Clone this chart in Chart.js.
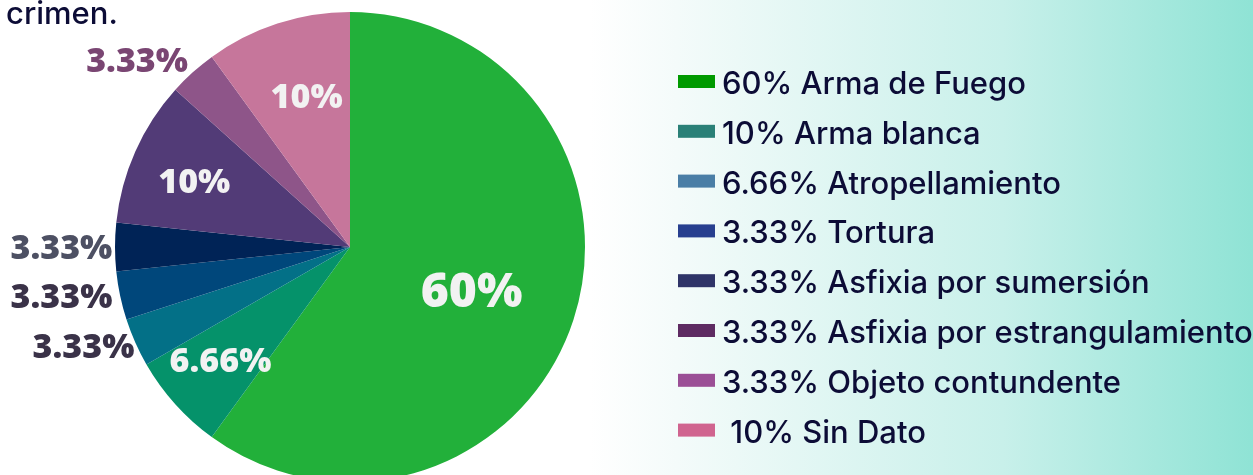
<!DOCTYPE html>
<html>
<head>
<meta charset="utf-8">
<script src="https://cdn.jsdelivr.net/npm/chart.js@4.4.1/dist/chart.umd.min.js"></script>
<style>
  html, body { margin: 0; padding: 0; width: 1253px; height: 475px; overflow: hidden; }
  body { background: linear-gradient(to right, #ffffff 0%, #ffffff 47%, #f4fbfa 54%, #c8f0ea 80%, #8fe3d5 100%); }
  #wrap { position: absolute; left: 0; top: 0; width: 1253px; height: 494px; }
</style>
</head>
<body>
<div id="wrap"><canvas id="c"></canvas></div>
<script>
// ---- data ----
const sliceNames = ["Arma de Fuego", "Atropellamiento", "Tortura", "Asfixia por sumersión", "Asfixia por estrangulamiento", "Arma blanca", "Objeto contundente", "Sin Dato"];
const sliceValues = [60, 6.66, 3.33, 3.33, 3.33, 10, 3.33, 10];
const legendLabels = ["60% Arma de Fuego", "10% Arma blanca", "6.66% Atropellamiento", "3.33% Tortura", "3.33% Asfixia por sumersión", "3.33% Asfixia por estrangulamiento", "3.33% Objeto contundente", " 10% Sin Dato"];
const titleText = "crimen.";

// ---- styles ----
const sliceColors = ["#22b03a", "#05926a", "#037087", "#00477b", "#002356", "#523b77", "#8e5589", "#c6769b"];
const legendColors = ["#009a00", "#2a8077", "#4a7ea6", "#273f8f", "#2f3468", "#5e2b62", "#9b4f96", "#d0648f"];
const labelColors = ["#f2f2f2", "#f2f2f2", "#3a3248", "#3a3248", "#4d5063", "#f2f2f2", "#7a4673", "#f2f2f2"];
const labelSizes = [48, 34, 34, 34, 34, 34, 34, 34];
const labelRadius = [0.548, 0.73, 1.21, 1.245, 1.228, 0.72, 1.206, 0.67];
const labelAngleShift = [1.3, 1, 3.6, 2.4, 0, -1, -6.7, 2];

const labelPlugin = {
  id: 'sliceLabels',
  afterDatasetsDraw(chart) {
    const ctx = chart.ctx;
    const meta = chart.getDatasetMeta(0);
    ctx.save();
    meta.data.forEach((arc, i) => {
      const p = arc.getProps(['x', 'y', 'startAngle', 'endAngle', 'outerRadius'], true);
      const mid = (p.startAngle + p.endAngle) / 2 + labelAngleShift[i] * Math.PI / 180;
      const r = p.outerRadius * labelRadius[i];
      const x = p.x + Math.cos(mid) * r;
      const y = p.y + Math.sin(mid) * r;
      const size = labelSizes[i];
      ctx.font = `800 ${size}px "Open Sans"`;
      ctx.fillStyle = labelColors[i];
      ctx.textAlign = 'center';
      ctx.textBaseline = 'alphabetic';
      ctx.fillText(sliceValues[i] + '%', x, y + size * 0.357);
    });
    ctx.restore();
  }
};

const legendPlugin = {
  id: 'sideLegend',
  afterDraw(chart) {
    const ctx = chart.ctx;
    ctx.save();
    const x0 = 678, y0 = 83, step = 49.8;
    legendLabels.forEach((t, i) => {
      const cy = y0 + i * step;
      ctx.fillStyle = legendColors[i];
      ctx.fillRect(x0, cy - 8, 37, 13);
      ctx.fillStyle = '#0c0c36';
      ctx.font = '500 31px Inter';
      ctx.textAlign = 'left';
      ctx.textBaseline = 'alphabetic';
      ctx.fillText(t, x0 + 44, cy + 11);
    });
    ctx.font = '500 31px Inter';
    ctx.fillStyle = '#0c0c36';
    ctx.fillText(titleText, 6, 24);
    ctx.restore();
  }
};

new Chart(document.getElementById('c'), {
  type: 'pie',
  data: {
    labels: sliceNames,
    datasets: [{
      data: sliceValues,
      backgroundColor: sliceColors,
      borderWidth: 0
    }]
  },
  options: {
    responsive: true,
    maintainAspectRatio: false,
    animation: false,
    layout: { padding: { left: 115, right: 668, top: 12, bottom: 12 } },
    plugins: {
      legend: { display: false },
      tooltip: { enabled: false }
    }
  },
  plugins: [labelPlugin, legendPlugin]
});
</script>
</body>
</html>
